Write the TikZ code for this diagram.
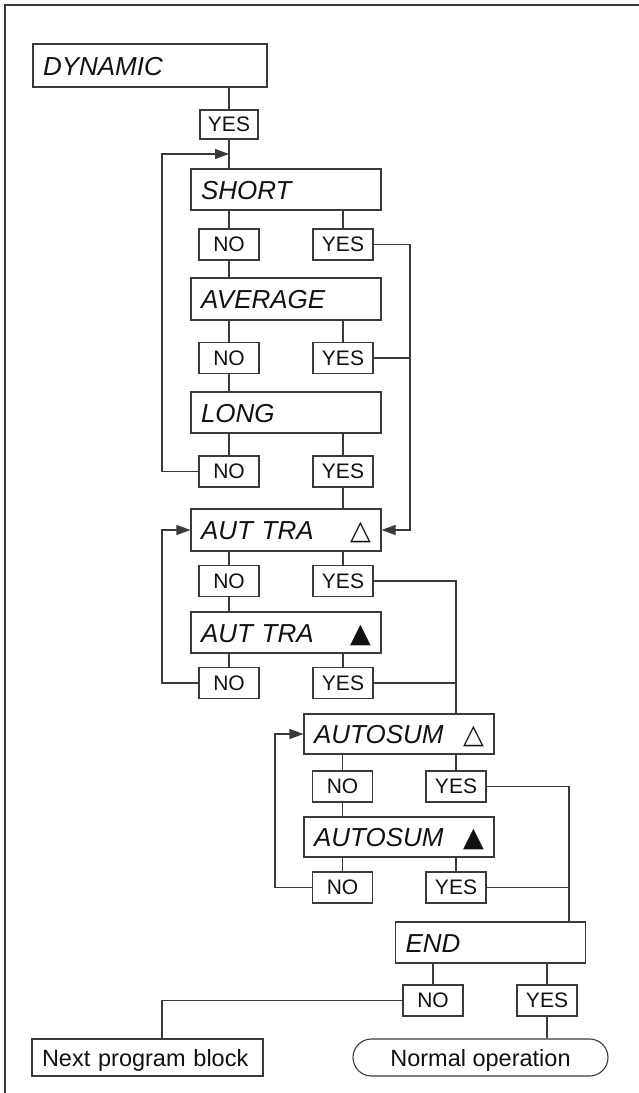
\documentclass[tikz,border=0pt]{standalone}
\usepackage{fontspec}
\setmainfont{Liberation Sans}
\newfontfamily\symf{DejaVu Sans}
\usetikzlibrary{arrows.meta,shapes.misc}
\definecolor{linec}{HTML}{3A3A3A}
\definecolor{txt}{HTML}{111111}
\newcommand{\wtri}{{\fontsize{27}{27}\selectfont\symf\upshape △}}
\newcommand{\btri}{{\fontsize{27}{27}\selectfont\symf\upshape ▲}}
\begin{document}
\begin{tikzpicture}[x=1pt,y=-1pt,
  conn/.style={draw=linec, line width=1.1pt},
  arr/.style={conn, -{Triangle[length=14pt,width=10pt]}},
  mainbox/.style={draw=linec, line width=1.1pt, inner xsep=10pt, inner ysep=0pt,
    text width=#1, align=left, minimum height=41pt, text height=19pt, text depth=0pt,
    font=\fontsize{26}{26}\selectfont\itshape, text=txt},
  mainbox/.default=170pt,
  yn/.style={draw=linec, line width=1.1pt, inner sep=0pt, minimum width=60pt,
    minimum height=31pt, font=\fontsize{21}{21}\selectfont, text=txt},
  endbox/.style={draw=linec, line width=1.1pt, inner sep=0pt, minimum height=37pt,
    font=\fontsize{23.5}{23.5}\selectfont, text=txt, text height=17pt, text depth=0pt}
]
\useasboundingbox (0,0) rectangle (639,1093);
% frame
\draw[linec, line width=2pt] (639,5) -- (5,5);
\draw[linec, line width=1.3pt] (5,4) -- (5,1093);

% main boxes
\node[mainbox=214pt, minimum height=43pt] (dyn) at (150,65.5) {DYNAMIC};
\node[mainbox] (short) at (286,189.5) {SHORT};
\node[mainbox, minimum height=42pt] (avg) at (286,299) {AVERAGE};
\node[mainbox] (long) at (286,412.5) {LONG};
\node[mainbox, minimum height=42pt] (att1) at (286,530) {AUT TRA\hfill\wtri};
\node[mainbox] (att2) at (286,632.5) {AUT TRA\hfill\btri};
\node[mainbox, minimum height=40pt] (aus1) at (399,734) {AUTOSUM\hfill\wtri};
\node[mainbox, minimum height=40pt] (aus2) at (399,837) {AUTOSUM\hfill\btri};
\node[mainbox] (end) at (490.5,942.5) {END};

% yes/no boxes
\node[yn, minimum width=58pt, minimum height=29pt] (y0) at (229,124.5) {YES};
\node[yn] (n1) at (229,244.5) {NO};
\node[yn] (y1) at (343,244.5) {YES};
\node[yn] (n2) at (229,358) {NO};
\node[yn] (y2) at (343,358) {YES};
\node[yn] (n3) at (229,471.5) {NO};
\node[yn] (y3) at (343,471.5) {YES};
\node[yn] (n4) at (229,581) {NO};
\node[yn] (y4) at (343,581) {YES};
\node[yn] (n5) at (229,683) {NO};
\node[yn] (y5) at (343,683) {YES};
\node[yn] (n6) at (342.5,786.5) {NO};
\node[yn] (y6) at (456,786.5) {YES};
\node[yn] (n7) at (342.5,887.5) {NO};
\node[yn] (y7) at (456,887.5) {YES};
\node[yn] (n8) at (433,1000.5) {NO};
\node[yn] (y8) at (547,1000.5) {YES};

% terminal boxes
\node[endbox, minimum width=231pt, text width=211pt, align=left, inner xsep=10pt] (nextb) at (147.5,1057.5) {Next program block};
\node[endbox, minimum width=255pt, rounded rectangle] (normop) at (480.5,1057.5) {Normal operation};

% junction coordinates
\coordinate (in1) at (229,154);
\coordinate (c1) at (162,471.5);
\coordinate (r1) at (410,244.5);
\coordinate (c2) at (162,683);
\coordinate (c3) at (275,887.5);
\coordinate (r3) at (569,786.5);
\coordinate (c4) at (162,1000.5);

% DYNAMIC
\draw[conn] (dyn.south -| y0) -- (y0) -- (y0 |- short.north);
% SHORT / AVERAGE / LONG chain
\draw[conn] (short.south -| n1) -- (n1) -- (n1 |- avg.north);
\draw[conn] (avg.south -| n2) -- (n2) -- (n2 |- long.north);
\draw[conn] (long.south -| n3) -- (n3);
\draw[conn] (short.south -| y1) -- (y1);
\draw[conn] (avg.south -| y2) -- (y2);
\draw[conn] (long.south -| y3) -- (y3) -- (y3 |- att1.north);
\draw[arr] (n3.west) -- (c1) |- (in1);
\draw[arr] (y1.east) -- (r1) |- (att1.east);
\draw[conn] (y2.east) -- (y2.east -| r1);
% AUT TRA
\draw[conn] (att1.south -| n4) -- (n4) -- (n4 |- att2.north);
\draw[conn] (att1.south -| y4) -- (y4);
\draw[conn] (att2.south -| n5) -- (n5);
\draw[conn] (att2.south -| y5) -- (y5);
\draw[arr] (n5.west) -- (c2) |- (att1.west);
\draw[conn] (y4.east) -| (aus1.north -| y6);
\draw[conn] (y5.east) -- (y5.east -| y6);
% AUTOSUM
\draw[conn] (aus1.south -| n6) -- (n6) -- (n6 |- aus2.north);
\draw[conn] (aus1.south -| y6) -- (y6);
\draw[conn] (aus2.south -| n7) -- (n7);
\draw[conn] (aus2.south -| y7) -- (y7);
\draw[arr] (n7.west) -- (c3) |- (aus1.west);
\draw[conn] (y6.east) -- (r3) -- (r3 |- end.north);
\draw[conn] (y7.east) -- (y7.east -| r3);
% END
\draw[conn] (end.south -| n8) -- (n8);
\draw[conn] (end.south -| y8) -- (y8) -- (y8 |- normop.north);
\draw[conn] (n8.west) -- (c4) -- (c4 |- nextb.north);
\end{tikzpicture}
\end{document}
